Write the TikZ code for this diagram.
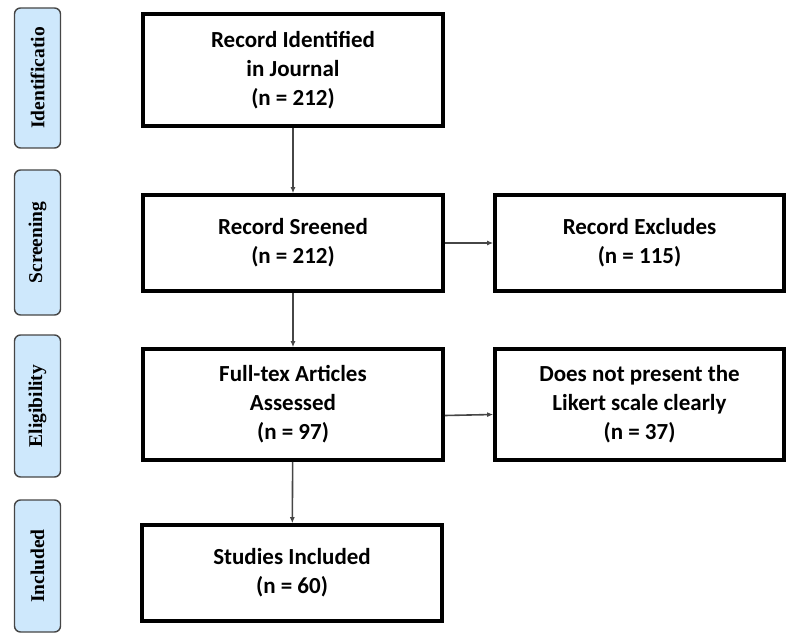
\documentclass[tikz,border=0pt]{standalone}
\usepackage{fontspec}
\setmainfont{Carlito}
\newfontfamily\sidefont{Liberation Serif}
\usepackage{xcolor}
\usepackage{tikz}
\usetikzlibrary{positioning,arrows.meta}

\definecolor{sideblue}{RGB}{206,232,252}
\definecolor{sidegray}{RGB}{70,70,70}
\definecolor{arrgray}{RGB}{70,70,70}

\begin{document}
\begin{tikzpicture}[
  x=1pt, y=-1pt,
  stage/.style={draw=sidegray, line width=1.4pt, rounded corners=6pt, fill=sideblue,
    minimum width=46pt, minimum height=#1, inner sep=0pt},
  stagetext/.style={rotate=90, font=\sidefont\bfseries\fontsize{19.5}{21}\selectfont},
  box/.style={draw, line width=3.6pt, fill=white, align=center, inner sep=0pt,
    minimum width=300pt, minimum height=#1,
    font=\bfseries\fontsize{23}{29}\selectfont},
  arr/.style={-{Latex[length=6pt,width=5pt]}, line width=1.6pt, draw=arrgray}
]
  \useasboundingbox (0,0) rectangle (789,639);

  % ===== STAGES =====
  \node[stage=140pt] (sid) at (37.5,78) {};
  \node[stagetext] at (sid) {Identificatio};
  \node[stage=145pt] (sscr) at (37.5,242.5) {};
  \node[stagetext] at (sscr) {Screening};
  \node[stage=142pt] (seli) at (37.5,406) {};
  \node[stagetext] at (seli) {Eligibility};
  \node[stage=132pt] (sinc) at (37.5,566) {};
  \node[stagetext] at (sinc) {Included};

  % ===== MAIN COLUMN =====
  \node[box=112pt] (ident) at (293,70) {Record Identified\\in Journal\\(n = 212)};
  \node[box=96pt] (screen) at (293,243) {Record Sreened\\(n = 212)};
  \node[box=111pt] (full) at (293,404.5) {Full-tex Articles\\Assessed\\(n = 97)};
  \node[box=96pt] (incl) at (292,573) {Studies Included\\(n = 60)};

  % excluded
  \node[box=96pt, minimum width=289pt] (excl) at (639.5,243) {Record Excludes\\(n = 115)};
  \node[box=111pt, minimum width=289pt] (likert) at (639.5,404.5) {Does not present the\\Likert scale clearly\\(n = 37)};

  \draw[arr] (ident) -- (screen);
  \draw[arr] (screen) -- (full);
  \draw[arr] (full) -- (incl);
  \draw[arr] (screen) -- (excl);
  \draw[arr] ([yshift=-11pt]full.east) -- ([yshift=-10pt]likert.west);
\end{tikzpicture}
\end{document}
